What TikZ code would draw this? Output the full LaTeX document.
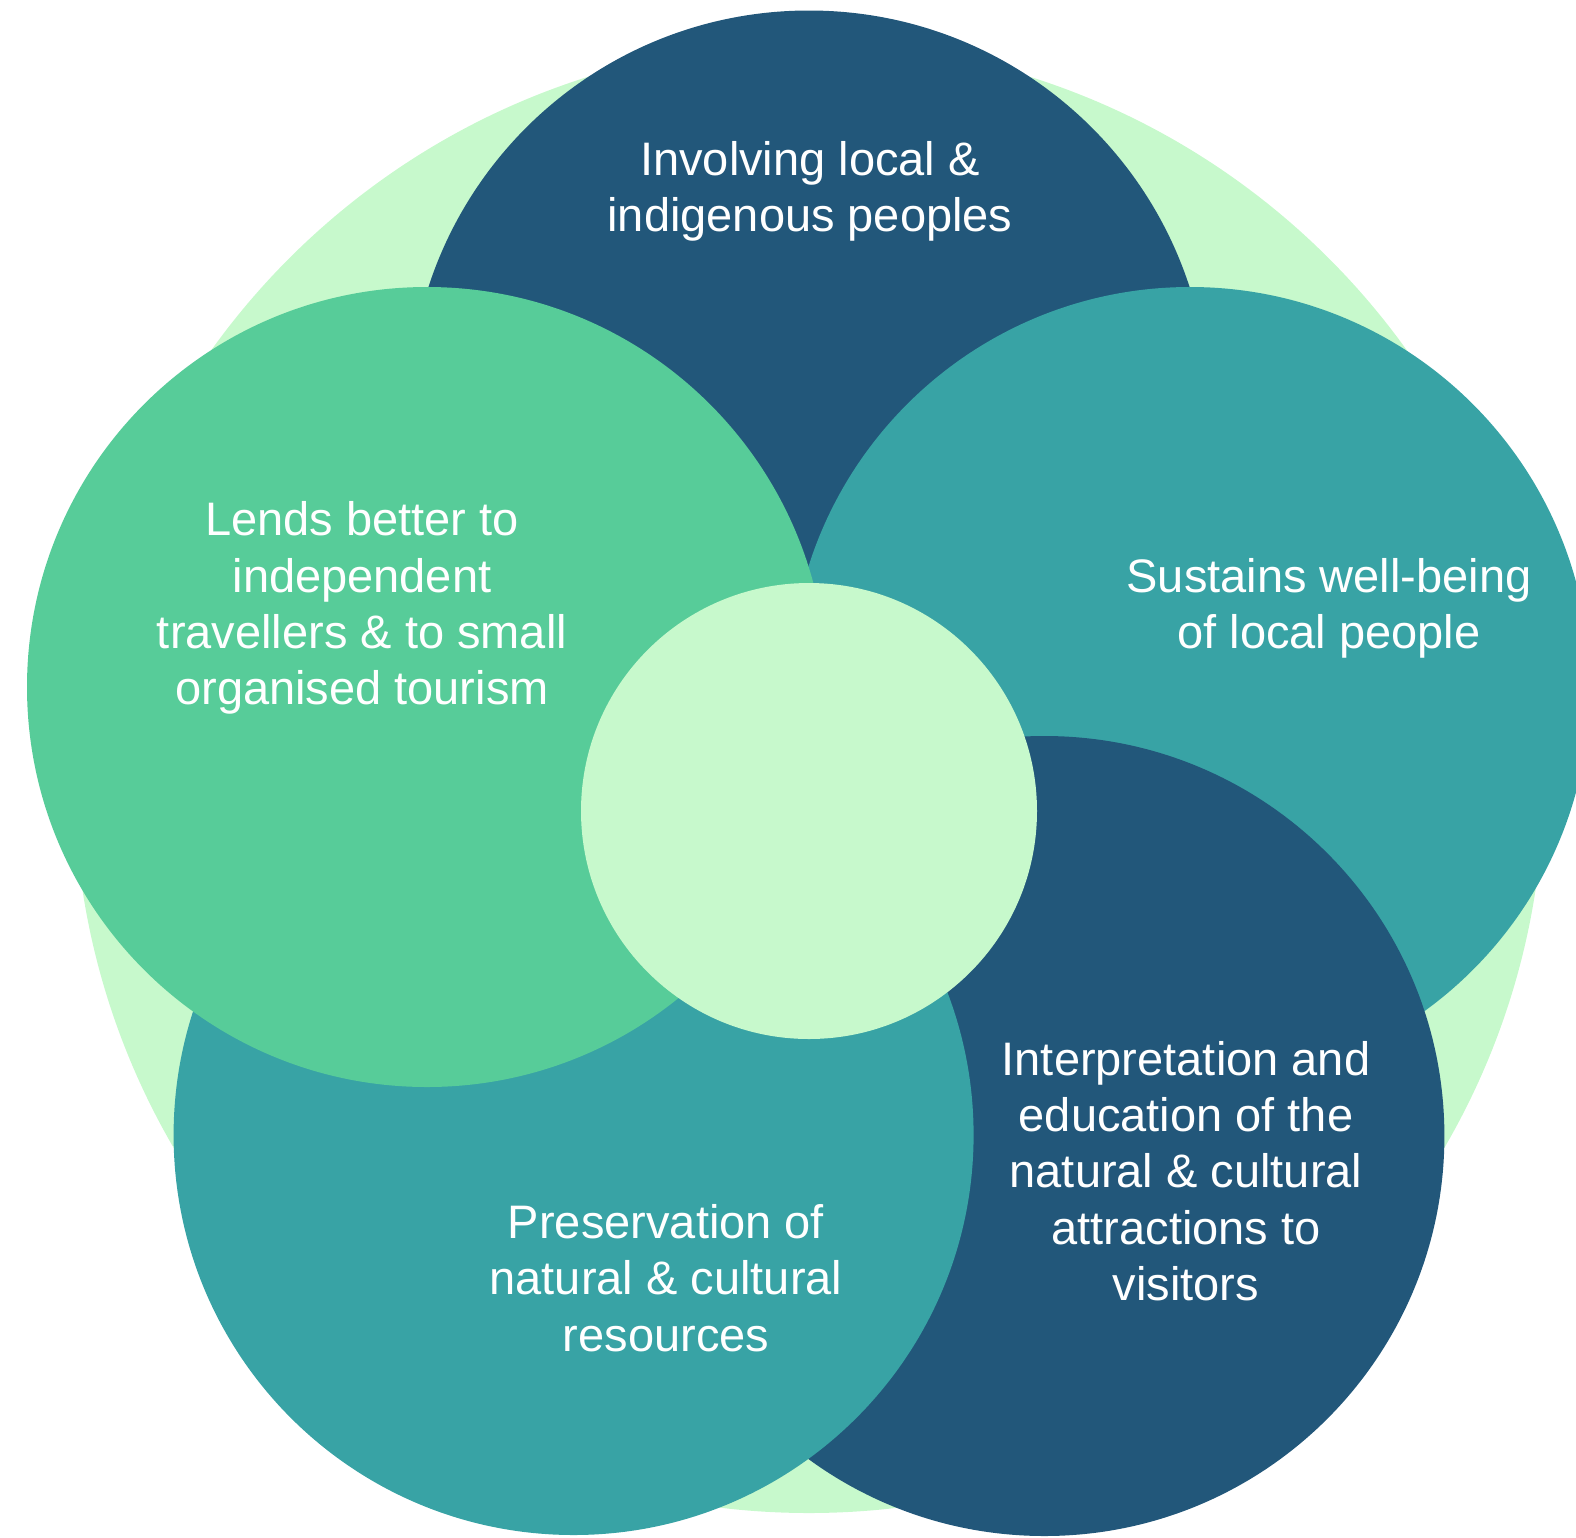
\documentclass[tikz,border=0pt]{standalone}
\usepackage{fontspec}
\setmainfont{Liberation Sans}
\definecolor{cdark}{HTML}{22577A}
\definecolor{cteal}{HTML}{38A3A5}
\definecolor{cgreen}{HTML}{57CC99}
\definecolor{clight}{HTML}{C7F9CC}
\tikzset{
  disc/.style={circle, inner sep=0pt, minimum size=800pt, draw=none},
  lbl/.style={align=center, text=white, inner sep=0pt, font=\fontsize{47}{56.3}\selectfont}
}
\begin{document}
\begin{tikzpicture}[x=1pt,y=-1pt]
\useasboundingbox (0,0) rectangle (1576,1537);
\node[circle, inner sep=0pt, minimum size=1470pt, fill=clight] (bg) at (809,778) {};
\node[disc, fill=cdark]  (top) at (809,410.5) {};
\node[disc, fill=cteal]  (right) at (1190,687) {};
\node[disc, fill=cdark]  (bright) at (1044.4,1136) {};
\node[disc, fill=cteal]  (bleft) at (573.6,1135) {};
\node[disc, fill=cgreen] (left) at (427,687) {};
\node[circle, inner sep=0pt, minimum size=456pt, fill=clight] (hub) at (809,811) {};
\node[lbl] (ttop) at (810,191) {Involving local \&\\indigenous peoples};
\node[lbl] (tleft) at (362,608) {Lends better to\\independent\\travellers \& to small\\organised tourism};
\node[lbl] (tright) at (1329,608) {Sustains well-being\\of local people};
\node[lbl] (tbright) at (1186,1171) {Interpretation and\\education of the\\natural \& cultural\\attractions to\\visitors};
\node[lbl] (tbleft) at (666,1278) {Preservation of\\natural \& cultural\\resources};
\end{tikzpicture}
\end{document}
